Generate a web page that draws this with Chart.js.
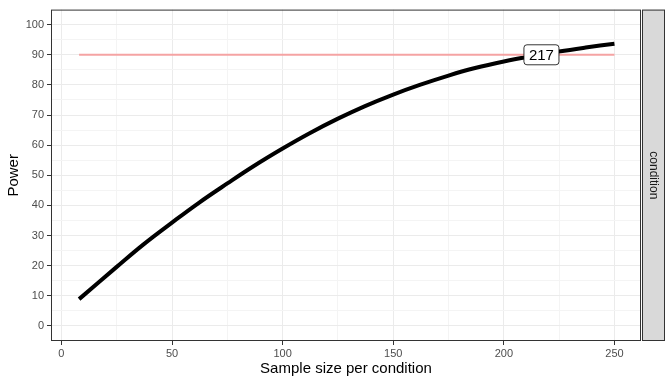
<!DOCTYPE html>
<html>
<head>
<meta charset="utf-8">
<script src="https://cdn.jsdelivr.net/npm/chart.js@4.4.1/dist/chart.umd.min.js"></script>
<style>
  html, body { margin: 0; padding: 0; background: #fff; }
  #wrap { width: 672px; height: 384px; }
</style>
</head>
<body>
<div id="wrap"><canvas id="powerChart" width="672" height="384"></canvas></div>
<script>
// power curve
var sampleSize = [8, 25, 37, 50, 62, 75, 87, 100, 112, 125, 137, 150, 162, 175, 187, 200, 212, 225, 237, 250];
var power = [8.9, 19.6, 27.0, 34.3, 40.8, 47.3, 53.1, 58.9, 63.9, 68.8, 72.9, 76.8, 80.0, 83.1, 85.6, 87.8, 89.5, 91.1, 92.4, 93.7];
var targetRange = [8, 250];
var targetPower = 90;
var labelN = 217;
var xTicks = [0, 25, 50, 75, 100, 125, 150, 175, 200, 225, 250];
var yTicks = [0, 5, 10, 15, 20, 25, 30, 35, 40, 45, 50, 55, 60, 65, 70, 75, 80, 85, 90, 95, 100];
var facetLabel = 'condition';

var FONT = "'Liberation Sans', Arial, sans-serif";

function gridColor(v, major) {
  return v % major === 0 ? '#EBEBEB' : '#F4F4F4';
}

// panel border, facet strip and the n label
var ggExtras = {
  id: 'ggExtras',
  afterDatasetsDraw: function(chart) {
    var ctx = chart.ctx;
    var x = chart.scales.x, y = chart.scales.y;
    var px = x.getPixelForValue(labelN);
    var py = y.getPixelForValue(targetPower);
    var txt = String(labelN);
    ctx.save();
    ctx.font = '15px ' + FONT;
    var w = ctx.measureText(txt).width + 10;
    var h = 20;
    ctx.beginPath();
    ctx.roundRect(px - w / 2, py - h / 2, w, h, 3);
    ctx.fillStyle = '#fff';
    ctx.fill();
    ctx.lineWidth = 0.8;
    ctx.strokeStyle = '#000';
    ctx.stroke();
    ctx.fillStyle = '#000';
    ctx.textAlign = 'center';
    ctx.textBaseline = 'middle';
    ctx.fillText(txt, px, py + 1);
    ctx.restore();
  },
  afterDraw: function(chart) {
    var ctx = chart.ctx;
    var a = chart.chartArea;
    ctx.save();
    ctx.strokeStyle = '#333333';
    ctx.lineWidth = 1;
    ctx.strokeRect(a.left + 0.5, a.top + 0.5, a.right - a.left - 1, a.bottom - a.top - 1);
    // strip
    var sx = a.right + 1, sw = 23;
    ctx.fillStyle = '#D9D9D9';
    ctx.fillRect(sx, a.top, sw, a.bottom - a.top);
    ctx.strokeRect(sx + 0.5, a.top + 0.5, sw - 1, a.bottom - a.top - 1);
    ctx.translate(sx + sw / 2, (a.top + a.bottom) / 2);
    ctx.rotate(Math.PI / 2);
    ctx.fillStyle = '#1A1A1A';
    ctx.font = '12px ' + FONT;
    ctx.textAlign = 'center';
    ctx.textBaseline = 'middle';
    ctx.fillText(facetLabel, 0, 0);
    ctx.restore();
  }
};

var chart = new Chart(document.getElementById('powerChart'), {
  type: 'line',
  data: {
    datasets: [
      {
        label: 'target',
        data: targetRange.map(function(n) { return { x: n, y: targetPower }; }),
        borderColor: '#F5A3A3',
        borderWidth: 2,
        pointRadius: 0
      },
      {
        label: 'power',
        data: sampleSize.map(function(n, i) { return { x: n, y: power[i] }; }),
        borderColor: '#000000',
        borderWidth: 4,
        pointRadius: 0,
        tension: 0.4
      }
    ]
  },
  plugins: [ggExtras],
  options: {
    responsive: false,
    animation: false,
    devicePixelRatio: 1,
    layout: { padding: { top: 7, right: 31, left: 0, bottom: 0 } },
    plugins: { legend: { display: false }, tooltip: { enabled: false } },
    scales: {
      x: {
        type: 'linear',
        min: -4.7,
        max: 262,
        afterBuildTicks: function(s) { s.ticks = xTicks.map(function(v) { return { value: v }; }); },
        afterFit: function(s) { s.height = 43; },
        border: { display: false },
        grid: {
          color: function(c) { return gridColor(c.tick.value, 50); },
          tickColor: function(c) { return c.tick.value % 50 === 0 ? '#333333' : 'rgba(0,0,0,0)'; },
          tickLength: 4
        },
        ticks: {
          autoSkip: false,
          maxRotation: 0,
          padding: 2,
          color: '#4D4D4D',
          font: { family: FONT, size: 11 },
          callback: function(v) { return v % 50 === 0 ? v : ''; }
        },
        title: {
          display: true,
          text: 'Sample size per condition',
          color: '#000',
          font: { family: FONT, size: 15 },
          padding: { top: 0, bottom: 6 }
        }
      },
      y: {
        type: 'linear',
        min: -5,
        max: 105,
        afterBuildTicks: function(s) { s.ticks = yTicks.map(function(v) { return { value: v }; }); },
        afterFit: function(s) { s.width = 51; },
        border: { display: false },
        grid: {
          color: function(c) { return gridColor(c.tick.value, 10); },
          tickColor: function(c) { return c.tick.value % 10 === 0 ? '#333333' : 'rgba(0,0,0,0)'; },
          tickLength: 4
        },
        ticks: {
          autoSkip: false,
          padding: 3,
          color: '#4D4D4D',
          font: { family: FONT, size: 11 },
          callback: function(v) { return v % 10 === 0 ? v : ''; }
        },
        title: {
          display: true,
          text: 'Power',
          color: '#000',
          font: { family: FONT, size: 15 },
          padding: { top: 5, bottom: 0 }
        }
      }
    }
  }
});
</script>
</body>
</html>
